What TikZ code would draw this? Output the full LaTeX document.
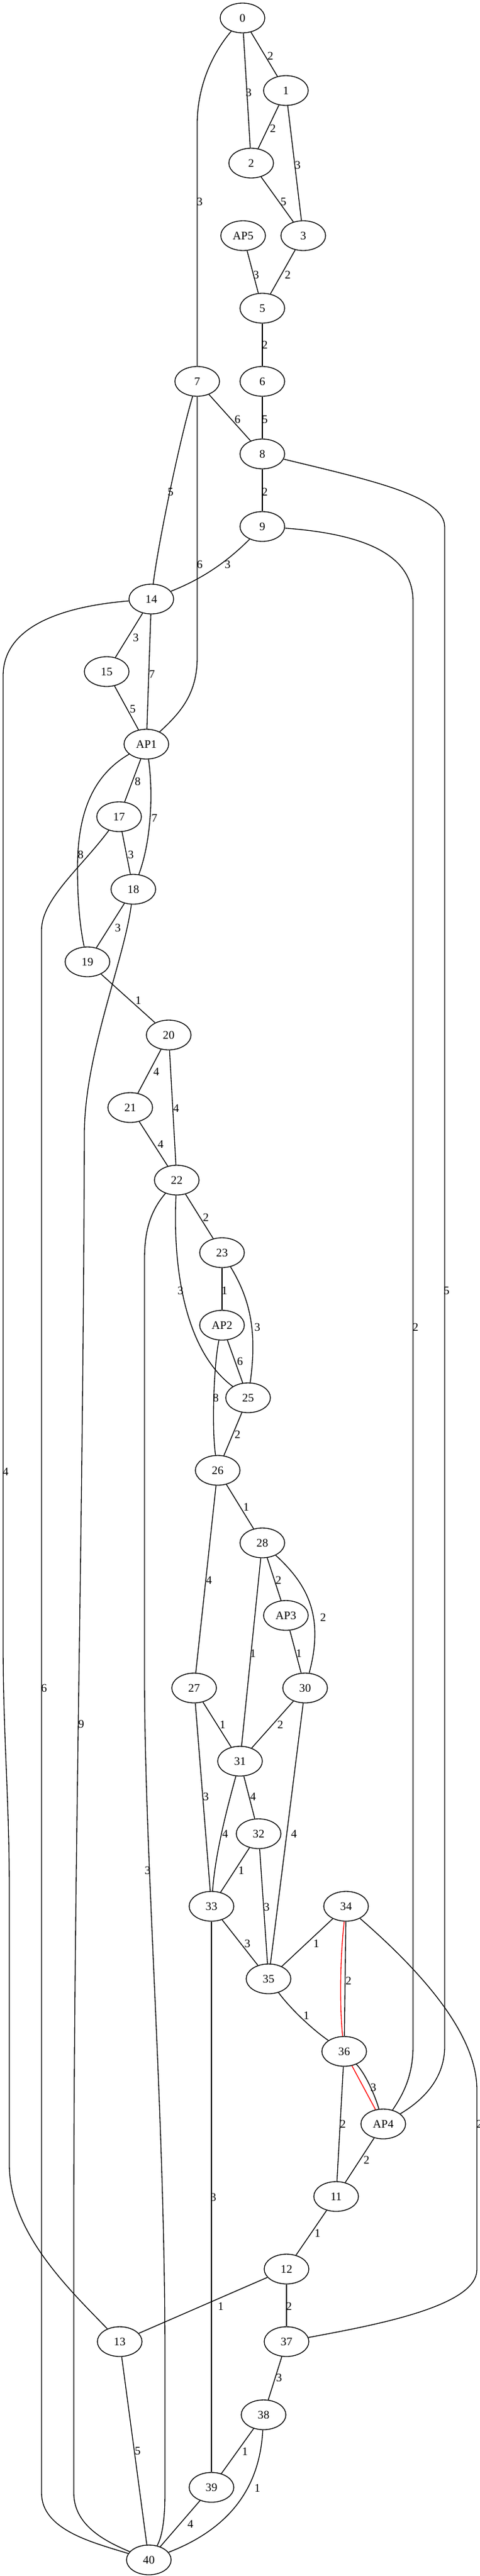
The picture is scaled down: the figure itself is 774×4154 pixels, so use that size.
\documentclass[tikz,border=0pt]{standalone}
\usepackage{fontspec}
\setmainfont{Liberation Serif}
\usetikzlibrary{shapes.geometric}

\definecolor{Back}{HTML}{FF0000}

\begin{document}
\begin{tikzpicture}[x={(0.75pt,0)}, y={(0,-0.75pt)}, line width=1pt,
  vtx/.style={ellipse, draw, minimum width=54pt, minimum height=36pt, inner sep=0pt, font=\fontsize{14}{16}\selectfont},
  lbl/.style={inner sep=0pt, font=\fontsize{14}{16}\selectfont}]

 \useasboundingbox (0,0) rectangle (774,4154);

 %%%%%%%%%% Vertices %%%%%%%%%%
 \node[vtx] (n0) at (391,29) {0};
 \node[vtx] (n1) at (461,146) {1};
 \node[vtx] (n2) at (405,263) {2};
 \node[vtx] (AP5) at (392,380) {AP5};
 \node[vtx] (n3) at (489,380) {3};
 \node[vtx] (n5) at (423,497) {5};
 \node[vtx] (n7) at (318,615) {7};
 \node[vtx] (n6) at (423,615) {6};
 \node[vtx] (n8) at (423,732) {8};
 \node[vtx] (n9) at (423,849) {9};
 \node[vtx] (n14) at (244,966) {14};
 \node[vtx] (n15) at (172,1083) {15};
 \node[vtx] (AP1) at (236,1200) {AP1};
 \node[vtx] (n17) at (192,1317) {17};
 \node[vtx] (n18) at (215,1434) {18};
 \node[vtx] (n19) at (141,1551) {19};
 \node[vtx] (n20) at (272,1669) {20};
 \node[vtx] (n21) at (210,1786) {21};
 \node[vtx] (n22) at (285,1903) {22};
 \node[vtx] (n23) at (358,2020) {23};
 \node[vtx] (AP2) at (358,2137) {AP2};
 \node[vtx] (n25) at (400,2254) {25};
 \node[vtx] (n26) at (351,2371) {26};
 \node[vtx] (n28) at (423,2488) {28};
 \node[vtx] (AP3) at (461,2605) {AP3};
 \node[vtx] (n27) at (313,2722) {27};
 \node[vtx] (n30) at (492,2722) {30};
 \node[vtx] (n31) at (387,2840) {31};
 \node[vtx] (n32) at (417,2957) {32};
 \node[vtx] (n33) at (341,3074) {33};
 \node[vtx] (n34) at (558,3074) {34};
 \node[vtx] (n35) at (433,3191) {35};
 \node[vtx] (n36) at (555,3308) {36};
 \node[vtx] (AP4) at (618,3425) {AP4};
 \node[vtx] (n11) at (542,3542) {11};
 \node[vtx] (n12) at (462,3659) {12};
 \node[vtx] (n13) at (193,3776) {13};
 \node[vtx] (n37) at (462,3776) {37};
 \node[vtx] (n38) at (425,3894) {38};
 \node[vtx] (n39) at (341,4011) {39};
 \node[vtx] (n40) at (240,4128) {40};

 %%%%%%%%%% Straight edges %%%%%%%%%%
 \draw (n0) -- (n1) node[lbl] at (436,90) {2};
 \draw (n0) -- (n2) node[lbl] at (401,149) {3};
 \draw (n1) -- (n2) node[lbl] at (440,207) {2};
 \draw (n1) -- (n3) node[lbl] at (480,266) {3};
 \draw (n2) -- (n3) node[lbl] at (457,325) {5};
 \draw (AP5) -- (n5) node[lbl] at (413,443) {3};
 \draw (n3) -- (n5) node[lbl] at (464,443) {2};
 \draw (n5) -- (n6) node[lbl] at (427,556) {2};
 \draw (n7) -- (n8) node[lbl] at (383,676) {6};
 \draw (n6) -- (n8) node[lbl] at (427,676) {5};
 \draw (n8) -- (n9) node[lbl] at (427,793) {2};
 \draw (n14) -- (n15) node[lbl] at (219,1028) {3};
 \draw (n14) -- (AP1) node[lbl] at (245,1087) {7};
 \draw (n15) -- (AP1) node[lbl] at (214,1143) {5};
 \draw (AP1) -- (n17) node[lbl] at (222,1260) {8};
 \draw (n17) -- (n18) node[lbl] at (211,1378) {3};
 \draw (n18) -- (n19) node[lbl] at (190,1496) {3};
 \draw (n19) -- (n20) node[lbl] at (223,1613) {1};
 \draw (n20) -- (n21) node[lbl] at (252,1728) {4};
 \draw (n20) -- (n22) node[lbl] at (284,1787) {4};
 \draw (n21) -- (n22) node[lbl] at (259,1845) {4};
 \draw (n22) -- (n23) node[lbl] at (332,1963) {2};
 \draw (n23) -- (AP2) node[lbl] at (362,2081) {1};
 \draw (AP2) -- (n25) node[lbl] at (387,2195) {6};
 \draw (n25) -- (n26) node[lbl] at (383,2313) {2};
 \draw (n26) -- (n28) node[lbl] at (397,2430) {1};
 \draw (n26) -- (n27) node[lbl] at (337,2548) {4};
 \draw (n28) -- (AP3) node[lbl] at (449,2548) {2};
 \draw (n28) -- (n31) node[lbl] at (408,2666) {1};
 \draw (AP3) -- (n30) node[lbl] at (482,2666) {1};
 \draw (n27) -- (n31) node[lbl] at (359,2781) {1};
 \draw (n30) -- (n31) node[lbl] at (452,2781) {2};
 \draw (n27) -- (n33) node[lbl] at (332,2897) {3};
 \draw (n31) -- (n32) node[lbl] at (408,2897) {4};
 \draw (n30) -- (n35) node[lbl] at (474,2957) {4};
 \draw (n32) -- (n33) node[lbl] at (389,3016) {1};
 \draw (n32) -- (n35) node[lbl] at (430,3075) {3};
 \draw (n33) -- (n35) node[lbl] at (399,3134) {3};
 \draw (n34) -- (n35) node[lbl] at (510,3134) {1};
 \draw (n34) -- (n36) node[lbl] at (562,3194) {2};
 \draw (n33) -- (n39) node[lbl] at (344,3543) {3};
 \draw (n36) -- (n11) node[lbl] at (553,3425) {2};
 \draw (AP4) -- (n11) node[lbl] at (591,3483) {2};
 \draw (n11) -- (n12) node[lbl] at (512,3601) {1};
 \draw (n12) -- (n13) node[lbl] at (356,3719) {1};
 \draw (n12) -- (n37) node[lbl] at (466,3719) {2};
 \draw (n37) -- (n38) node[lbl] at (450,3834) {3};
 \draw (n38) -- (n39) node[lbl] at (395,3953) {1};
 \draw (n39) -- (n40) node[lbl] at (307,4070) {4};
 \draw (n13) -- (n40) node[lbl] at (222,3952) {5};

 %%%%%%%%%% Curved edges %%%%%%%%%%
 \draw (n7) .. controls (292,700) and (256,870) .. (n14) node[lbl] at (275,793) {5};
 \draw (n9) .. controls (362,910) and (322,935) .. (n14) node[lbl] at (367,910) {3};
 \draw (n35) .. controls (465,3235) and (500,3270) .. (n36) node[lbl] at (494,3250) {1};
 \draw (n0) .. controls (335,95) and (318,150) .. (318,200) -- (n7) node[lbl] at (322,325) {3};
 \draw (n7) -- (318,1060) .. controls (318,1120) and (290,1150) .. (AP1) node[lbl] at (322,910) {6};
 \draw (n8) .. controls (600,775) and (717,800) .. (717,850) -- (717,3300) .. controls (717,3350) and (685,3385) .. (AP4) node[lbl] at (720,2081) {5};
 \draw (n9) .. controls (600,862) and (666,900) .. (666,970) -- (666,3300) .. controls (666,3350) and (648,3380) .. (AP4) node[lbl] at (670,2140) {2};
 \draw (n14) .. controls (100,978) and (5,1010) .. (5,1090) -- (5,2650) .. controls (5,2800) and (15,2900) .. (15,3050) -- (15,3490) .. controls (15,3600) and (110,3690) .. (n13) node[lbl] at (9,2373) {4};
 \draw (AP1) .. controls (150,1250) and (125,1310) .. (125,1400) .. controls (125,1460) and (130,1500) .. (n19) node[lbl] at (130,1378) {8};
 \draw (AP1) .. controls (246,1270) and (246,1350) .. (n18) node[lbl] at (249,1319) {7};
 \draw (n17) .. controls (130,1400) and (67,1450) .. (67,1500) -- (67,4020) .. controls (67,4080) and (150,4100) .. (n40) node[lbl] at (71,2722) {6};
 \draw (n18) .. controls (200,1550) and (136,1700) .. (136,1830) .. controls (134,2500) and (119,3000) .. (119,3600) -- (119,4020) .. controls (119,4075) and (175,4100) .. (n40) node[lbl] at (131,2780) {9};
 \draw (n22) .. controls (245,1950) and (233,1980) .. (233,2030) -- (233,2700) .. controls (233,3000) and (266,3400) .. (266,3800) -- (266,4020) .. controls (266,4060) and (262,4090) .. (n40) node[lbl] at (238,3016) {3};
 \draw (n22) .. controls (278,2050) and (300,2180) .. (n25) node[lbl] at (291,2081) {3};
 \draw (n23) .. controls (400,2090) and (416,2140) .. (n25) node[lbl] at (415,2140) {3};
 \draw (AP2) .. controls (345,2200) and (341,2300) .. (n26) node[lbl] at (348,2254) {8};
 \draw (n28) .. controls (490,2550) and (525,2600) .. (n30) node[lbl] at (521,2608) {2};
 \draw (n31) .. controls (365,2920) and (347,2990) .. (n33) node[lbl] at (363,2957) {4};
 \draw (n36) .. controls (590,3345) and (605,3380) .. (AP4) node[lbl] at (602,3366) {3};
 \draw (n34) .. controls (680,3180) and (769,3280) .. (769,3370) -- (769,3660) .. controls (769,3720) and (600,3750) .. (n37) node[lbl] at (773,3425) {2};
 \draw (n38) .. controls (420,3990) and (390,4070) .. (n40) node[lbl] at (415,4012) {1};

 %%%%%%%%%% Red edges %%%%%%%%%%
 \draw [color=Back] (n34) .. controls (549,3150) and (547,3230) .. (n36);
 \draw [color=Back] (n36) -- (AP4);

\end{tikzpicture}
\end{document}
